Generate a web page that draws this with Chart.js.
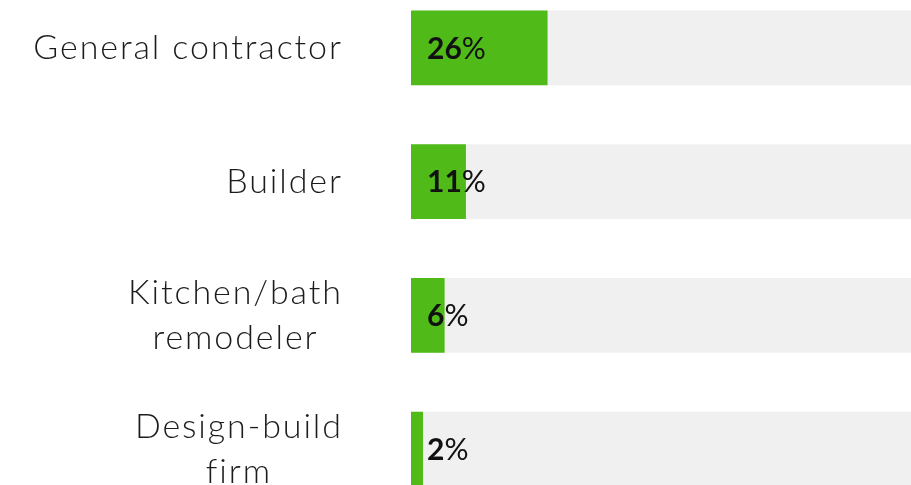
<!DOCTYPE html>
<html>
<head>
<meta charset="utf-8">
<script src="https://cdn.jsdelivr.net/npm/chart.js@4.4.1/dist/chart.umd.min.js"></script>
<style>
  html, body { margin: 0; padding: 0; width: 911px; height: 485px; overflow: hidden; background: #fff; }
  #wrap { position: absolute; left: 0; top: -19px; width: 931px; height: 535px; }
</style>
</head>
<body>
<div id="wrap"><canvas id="bar-chart"></canvas></div>
<script>
const categories = [
  ["General contractor"],
  ["Builder"],
  ["Kitchen/bath", "remodeler"],
  ["Design-build", "firm"],
];
const shares = [26.2, 10.5, 6.4, 2.25];
const track = [100, 100, 100, 100];

const green = "#50bb18";
const grey = "#f0f0f0";
const labelFont = "Lato";

// category labels: right edge fixed, multi-line labels centred on themselves
const sideLabels = {
  id: "sideLabels",
  afterDraw(chart) {
    const { ctx, chartArea, scales } = chart;
    const right = chartArea.left - 70;
    const lineH = 45;
    const ls = 1.9;
    ctx.save();
    ctx.font = `300 34px ${labelFont}`;
    ctx.letterSpacing = ls + "px";
    ctx.fillStyle = "#1c1c1c";
    ctx.textAlign = "left";
    ctx.textBaseline = "middle";
    categories.forEach((lines, i) => {
      const y = scales.y.getPixelForValue(i);
      const widths = lines.map((l) => ctx.measureText(l).width - ls);
      const widest = Math.max(...widths);
      const cx = right - widest / 2;
      lines.forEach((l, j) => {
        const ly = y + (j - (lines.length - 1) / 2) * lineH;
        ctx.fillText(l, cx - widths[j] / 2, ly);
      });
    });
    ctx.restore();
  },
};

// value labels inside the bars: bold number, lighter percent sign
const valueLabels = {
  id: "valueLabels",
  afterDatasetsDraw(chart) {
    const { ctx, chartArea, scales } = chart;
    ctx.save();
    ctx.fillStyle = "#111";
    ctx.textBaseline = "middle";
    ctx.textAlign = "left";
    shares.forEach((v, i) => {
      const y = scales.y.getPixelForValue(i) + 1;
      const x = chartArea.left + 16;
      const num = String(Math.round(v));
      ctx.font = `700 30px ${labelFont}`;
      ctx.fillText(num, x, y);
      const w = ctx.measureText(num).width;
      ctx.font = `400 30px ${labelFont}`;
      ctx.fillText("%", x + w, y);
    });
    ctx.restore();
  },
};

new Chart(document.getElementById("bar-chart"), {
  type: "bar",
  data: {
    labels: categories,
    datasets: [
      {
        data: shares,
        backgroundColor: green,
        order: 0,
        grouped: false,
        barThickness: 74,
      },
      {
        data: track,
        backgroundColor: grey,
        order: 1,
        grouped: false,
        barThickness: 74,
      },
    ],
  },
  options: {
    indexAxis: "y",
    responsive: true,
    maintainAspectRatio: false,
    animation: false,
    layout: { padding: { left: 411, right: 0, top: 0, bottom: 0 } },
    plugins: { legend: { display: false }, tooltip: { enabled: false } },
    scales: {
      x: { display: false, min: 0, max: 100 },
      y: { display: false },
    },
  },
  plugins: [sideLabels, valueLabels],
});
</script>
</body>
</html>
